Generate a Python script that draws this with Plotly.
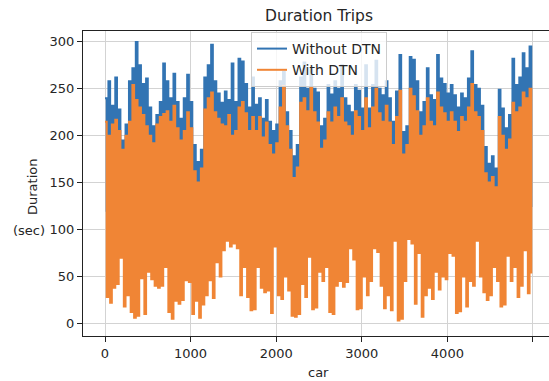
import plotly.graph_objects as go

# Values (alternating local highs / lows of the dense trip series)
without_dtn = [
    240,120, 258,105, 232,132, 262,98, 228,140, 195,110, 212,125, 258,101, 272,137, 300,115,
    275,128, 255,96, 261,142, 230,118, 210,107, 222,133, 236,121, 277,99, 258,138, 240,112,
    266,126, 236,104, 218,135, 240,117, 265,109, 236,131, 190,100, 172,112, 185,98, 262,124,
    275,139, 297,114, 258,127, 245,102, 235,136, 247,119, 238,108, 277,130, 236,97, 282,141,
    279,116, 255,123, 230,103, 262,134, 233,111, 240,129, 218,100, 238,137, 215,120, 205,106,
    212,132, 258,115, 268,125, 225,99, 205,140, 178,108, 190,100, 262,96, 278,128, 250,113,
    272,136, 250,105, 246,121, 210,130, 218,98, 254,139, 244,117, 258,124, 250,102, 275,133,
    240,110, 232,127, 225,101, 254,138, 248,114, 229,122, 275,106, 229,135, 254,119, 280,129,
    250,97, 243,141, 258,112, 240,125, 215,104, 247,131, 286,118, 204,108, 210,136, 284,100,
    281,127, 258,115, 225,139, 236,103, 272,123, 243,110, 238,134, 286,98, 261,128, 255,116,
    245,107, 254,137, 243,121, 230,102, 245,130, 240,113, 261,125, 290,99, 254,140, 250,109,
    232,118, 188,106, 170,100, 178,112, 165,98, 249,132, 229,120, 208,104, 222,126, 282,111,
    254,137, 262,101, 288,129, 272,115, 295,124,
]

with_dtn = [
    215,28, 200,22, 212,38, 217,42, 205,70, 185,18, 200,30, 215,12, 254,6, 238,8,
    230,48, 222,10, 210,55, 200,47, 192,40, 212,38, 220,40, 223,60, 226,12, 215,5,
    232,24, 208,21, 195,25, 205,46, 225,44, 208,10, 162,24, 150,6, 165,20, 228,30,
    240,46, 246,27, 225,65, 218,50, 212,78, 210,88, 222,82, 200,85, 205,80, 230,30,
    236,60, 224,28, 205,14, 220,15, 205,60, 220,38, 198,33, 214,35, 190,11, 180,82,
    192,30, 230,26, 253,50, 210,35, 185,8, 155,7, 166,10, 235,42, 240,28, 226,71,
    252,15, 225,17, 214,55, 186,45, 195,60, 225,12, 214,10, 230,40, 220,45, 240,39,
    214,44, 210,80, 200,68, 226,15, 220,16, 205,50, 240,30, 208,45, 230,80, 250,76,
    224,40, 215,16, 232,30, 214,14, 190,88, 220,3, 248,5, 180,45, 190,90, 250,85,
    242,21, 226,75, 200,7, 210,30, 240,38, 215,26, 210,55, 246,36, 230,50, 224,47,
    215,75, 225,72, 215,11, 204,13, 220,50, 215,18, 230,45, 255,40, 225,88, 220,50,
    205,33, 160,25, 150,30, 156,60, 145,45, 220,18, 200,20, 185,72, 196,45, 235,60,
    225,28, 230,40, 246,78, 240,32, 250,53,
]

car_step = 20
car_without = list(range(0, car_step * len(without_dtn), car_step))
car_with = list(range(0, car_step * len(with_dtn), car_step))

x_ticks = [0, 1000, 2000, 3000, 4000, 5000]
y_ticks = [0, 50, 100, 150, 200, 250, 300]

BLUE = "#3274b3"
ORANGE = "#f08535"
TXT = "#262626"
FONT = "DejaVu Sans"

fig = go.Figure()
fig.add_trace(go.Scatter(x=car_without, y=without_dtn, mode="lines", name="Without DTN",
                         line=dict(color=BLUE, width=2, shape="hv")))
fig.add_trace(go.Scatter(x=car_with, y=with_dtn, mode="lines", name="With DTN",
                         line=dict(color=ORANGE, width=2, shape="hv")))

W, H = 549, 381
L, R, T, B = 83, 0, 31, 45
pw, ph = W - L - R, H - T - B

def px_x(p):
    return (p - L) / pw

def px_y(p):
    return 1 - (p - T) / ph

fig.update_layout(
    width=W, height=H, autosize=False,
    margin=dict(l=L, r=R, t=T, b=B, pad=0, autoexpand=False),
    paper_bgcolor="white", plot_bgcolor="white",
    font=dict(family=FONT, size=13, color=TXT),
    title=dict(text="Duration Trips", x=319 / W, xref="container", xanchor="center",
               y=1 - 16 / H, yref="container", yanchor="middle",
               font=dict(family=FONT, size=15.5, color=TXT)),
    showlegend=True,
    legend=dict(x=px_x(319), xref="paper", xanchor="center",
                y=px_y(32), yref="paper", yanchor="top",
                bgcolor="rgba(255,255,255,0.8)", bordercolor="#cccccc", borderwidth=1,
                font=dict(family=FONT, size=14, color=TXT), itemwidth=30,
                tracegroupgap=0),
    xaxis=dict(range=[-257, 5187], tickmode="array", tickvals=x_ticks,
               ticktext=[str(v) for v in x_ticks], tickangle=0, automargin=False,
               showgrid=True, gridcolor="#d3d3d3", gridwidth=1, zeroline=False,
               showline=True, linecolor="#222222", linewidth=1, mirror=True,
               ticks="outside", ticklen=5, tickcolor="#222222", tickwidth=1,
               tickfont=dict(family=FONT, size=13, color=TXT)),
    yaxis=dict(range=[-13.5, 311.6], tickmode="array", tickvals=y_ticks,
               ticktext=[str(v) for v in y_ticks], automargin=False,
               showgrid=True, gridcolor="#d3d3d3", gridwidth=1, zeroline=False,
               showline=True, linecolor="#222222", linewidth=1, mirror=False,
               ticks="outside", ticklen=5, tickcolor="#222222", tickwidth=1,
               tickfont=dict(family=FONT, size=13, color=TXT)),
    annotations=[
        dict(text="Duration", xref="paper", yref="paper", x=px_x(32), y=px_y(187),
             textangle=-90, showarrow=False, xanchor="center", yanchor="middle",
             font=dict(family=FONT, size=13, color=TXT)),
        dict(text="(sec)", xref="paper", yref="paper", x=px_x(29), y=px_y(230),
             showarrow=False, xanchor="center", yanchor="middle",
             font=dict(family=FONT, size=13, color=TXT)),
        dict(text="car", xref="paper", yref="paper", x=px_x(318), y=px_y(372),
             showarrow=False, xanchor="center", yanchor="middle",
             font=dict(family=FONT, size=13, color=TXT)),
    ],
)

fig.write_html("out.html", config={"displayModeBar": False},
               post_script="document.body.style.margin='0px';document.body.style.overflow='hidden';")
